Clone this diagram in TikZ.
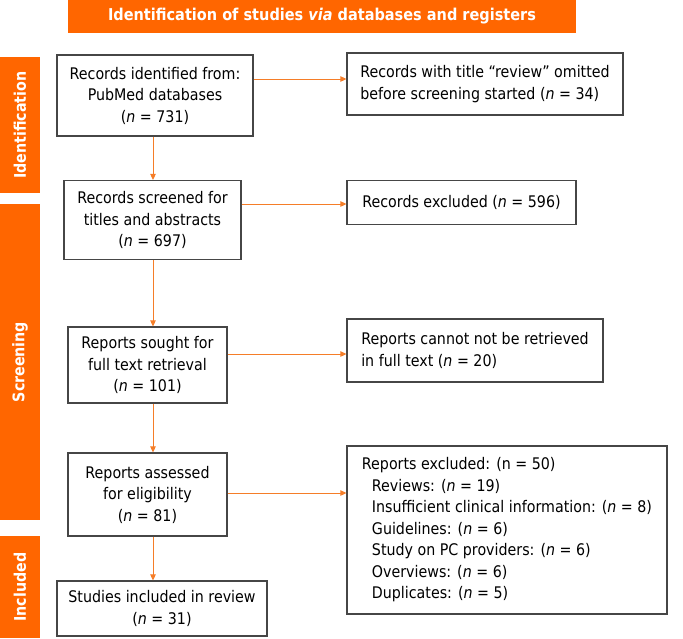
\documentclass[tikz,border=0pt]{standalone}
\usepackage{fontspec}
\setmainfont{DejaVu Sans}[FakeStretch=0.89]
\usetikzlibrary{arrows.meta}
\definecolor{barorange}{RGB}{255,102,0}
\definecolor{arrorange}{RGB}{245,125,40}
\definecolor{boxgray}{RGB}{70,70,70}
\tikzset{
  box/.style={draw=boxgray, line width=1.2pt, inner sep=0pt, align=center, font=\fontsize{16}{21.5}\selectfont},
  lbox/.style={box, align=left},
  bar/.style={fill=barorange, inner sep=0pt, rotate=90, text=white, minimum height=40pt, font=\bfseries\fontsize{16}{19}\selectfont},
  arr/.style={draw=arrorange, line width=1pt, -{Triangle[length=6pt,width=5.5pt]}},
}
\begin{document}
\begin{tikzpicture}[x=1pt,y=-1pt]
\useasboundingbox (0,0) rectangle (683,638);
\node[fill=barorange, minimum width=508pt, minimum height=33pt, inner sep=0pt, text=white, font=\bfseries\fontsize{16.3}{19}\selectfont] (ban) at (322,16.5) {Identification of studies \textit{via} databases and registers};
\node[bar, minimum width=136pt] (idbar) at (20,125) {Identification};
\node[bar, minimum width=316pt] (scbar) at (20,362) {Screening};
\node[bar, minimum width=102pt] (inbar) at (20,587) {Included};

\node[box, minimum width=196pt, minimum height=81pt] (b1) at (155,95.5) {Records identified from:\\PubMed databases\\(\textit{n} = 731)};
\node[lbox, minimum width=276pt, minimum height=62pt] (r1) at (485,84) {Records with title “review” omitted\\before screening started (\textit{n} = 34)};
\node[box, minimum width=177pt, minimum height=79pt] (b2) at (152.5,220) {Records screened for\\titles and abstracts\\(\textit{n} = 697)};
\node[lbox, minimum width=229pt, minimum height=44pt] (r2) at (461.5,202.5) {Records excluded (\textit{n} = 596)};
\node[box, minimum width=159pt, minimum height=76pt] (b3) at (147.5,365) {Reports sought for\\full text retrieval\\(\textit{n} = 101)};
\node[lbox, minimum width=256pt, minimum height=63pt] (r3) at (475,350.5) {Reports cannot not be retrieved\\in full text (\textit{n} = 20)};
\node[box, minimum width=159pt, minimum height=83pt] (b4) at (147.5,494.5) {Reports assessed\\for eligibility\\(\textit{n} = 81)};
\node[lbox, minimum width=320pt, minimum height=168pt] (r4) at (507,530) {Reports excluded: (n = 50)\\
\hspace*{10pt}Reviews: (\textit{n} = 19)\\
\hspace*{10pt}Insufficient clinical information: (\textit{n} = 8)\\
\hspace*{10pt}Guidelines: (\textit{n} = 6)\\
\hspace*{10pt}Study on PC providers: (\textit{n} = 6)\\
\hspace*{10pt}Overviews: (\textit{n} = 6)\\
\hspace*{10pt}Duplicates: (\textit{n} = 5)};
\node[box, minimum width=210pt, minimum height=55pt] (b5) at (162,608.5) {Studies included in review\\(\textit{n} = 31)};

\coordinate (ax) at (153,0);
\coordinate (y1) at (0,79);
\coordinate (y2) at (0,204);
\coordinate (y3) at (0,354);
\coordinate (y4) at (0,493);

\draw[arr] (b1.south -| ax) -- (b2.north -| ax);
\draw[arr] (b2.south -| ax) -- (b3.north -| ax);
\draw[arr] (b3.south -| ax) -- (b4.north -| ax);
\draw[arr] (b4.south -| ax) -- (b5.north -| ax);
\draw[arr] (b1.east |- y1) -- (r1.west |- y1);
\draw[arr] (b2.east |- y2) -- (r2.west |- y2);
\draw[arr] (b3.east |- y3) -- (r3.west |- y3);
\draw[arr] (b4.east |- y4) -- (r4.west |- y4);
\end{tikzpicture}
\end{document}
